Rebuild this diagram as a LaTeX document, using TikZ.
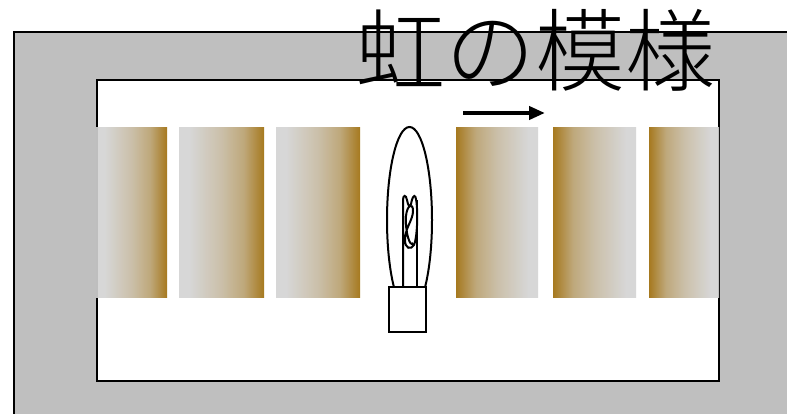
\documentclass[tikz,border=0pt]{standalone}
\usepackage{fontspec}
\newfontfamily\jpfont{Noto Sans CJK JP Light}
\usetikzlibrary{arrows.meta}
\definecolor{framegray}{HTML}{BFBFBF}
\definecolor{pale}{HTML}{D3D3D3}
\definecolor{bronze}{HTML}{9D6B07}
% pale on the left, warming up towards the right edge
\pgfdeclarehorizontalshading{warmband}{100bp}{
  color(0bp)=(pale); color(25bp)=(pale); color(31bp)=(pale);
  color(50bp)=(pale!75!bronze); color(63bp)=(pale!50!bronze);
  color(75bp)=(bronze); color(100bp)=(bronze)}
\tikzset{
  outline/.style={draw=black, line width=2pt},
  leftbar/.style={shading=warmband, fill opacity=0.9},
  rightbar/.style={shading=warmband, shading angle=180, fill opacity=0.9},
  bulbline/.style={draw=black, line width=2pt},
  title/.style={font=\jpfont\fontsize{90}{90}\selectfont, inner sep=0pt, anchor=center},
}
\begin{document}
\begin{tikzpicture}[x=1pt,y=-1pt]
\useasboundingbox (0,0) rectangle (787,414);
\fill[white] (0,0) rectangle (787,414);

% frame and window
\path[outline, fill=framegray] (14,32) rectangle (790,420);
\path[outline, fill=white] (97,80) rectangle (719,381);

% shaded bands, left group then right group
\shade[leftbar] (96,128) rectangle (167,297);
\shade[leftbar] (179,128) rectangle (264,297);
\shade[leftbar] (276,128) rectangle (360,297);
\shade[rightbar] (456,128) rectangle (538,297);
\shade[rightbar] (553,128) rectangle (636,297);
\shade[rightbar] (649,128) rectangle (719,297);

% lamp: glass, leads, coiled filament, cap
\draw[bulbline, fill=white] (409.5,220) ellipse [x radius=22.5, y radius=93];
\draw[bulbline] (403,287) -- (403,200)
  .. controls (403,195) and (406,194) .. (407,200)
  .. controls (408,206) and (410,208) .. (411,204)
  .. controls (412,198) and (414,194) .. (415.5,197)
  .. controls (418,205) and (418,235) .. (414,245)
  .. controls (411,250) and (405,249) .. (405,240)
  .. controls (405,228) and (413,220) .. (413,211)
  .. controls (413,202) and (407,205) .. (406,216)
  .. controls (405,232) and (410,248) .. (413,243);
\draw[bulbline] (416.5,287) -- (416.5,200);
\node[bulbline, fill=white, minimum width=37pt, minimum height=45pt, inner sep=0pt] (base) at (407.5,309.5) {};

% direction arrow
\coordinate (arrowtail) at (463,113);
\coordinate (arrowhead) at (545,113);
\draw[line width=4pt, -{Triangle[length=16pt, width=13pt]}] (arrowtail) -- (arrowhead);

% title
\node[title] (heading) at (535,50) {虹の模様};
\end{tikzpicture}
\end{document}
